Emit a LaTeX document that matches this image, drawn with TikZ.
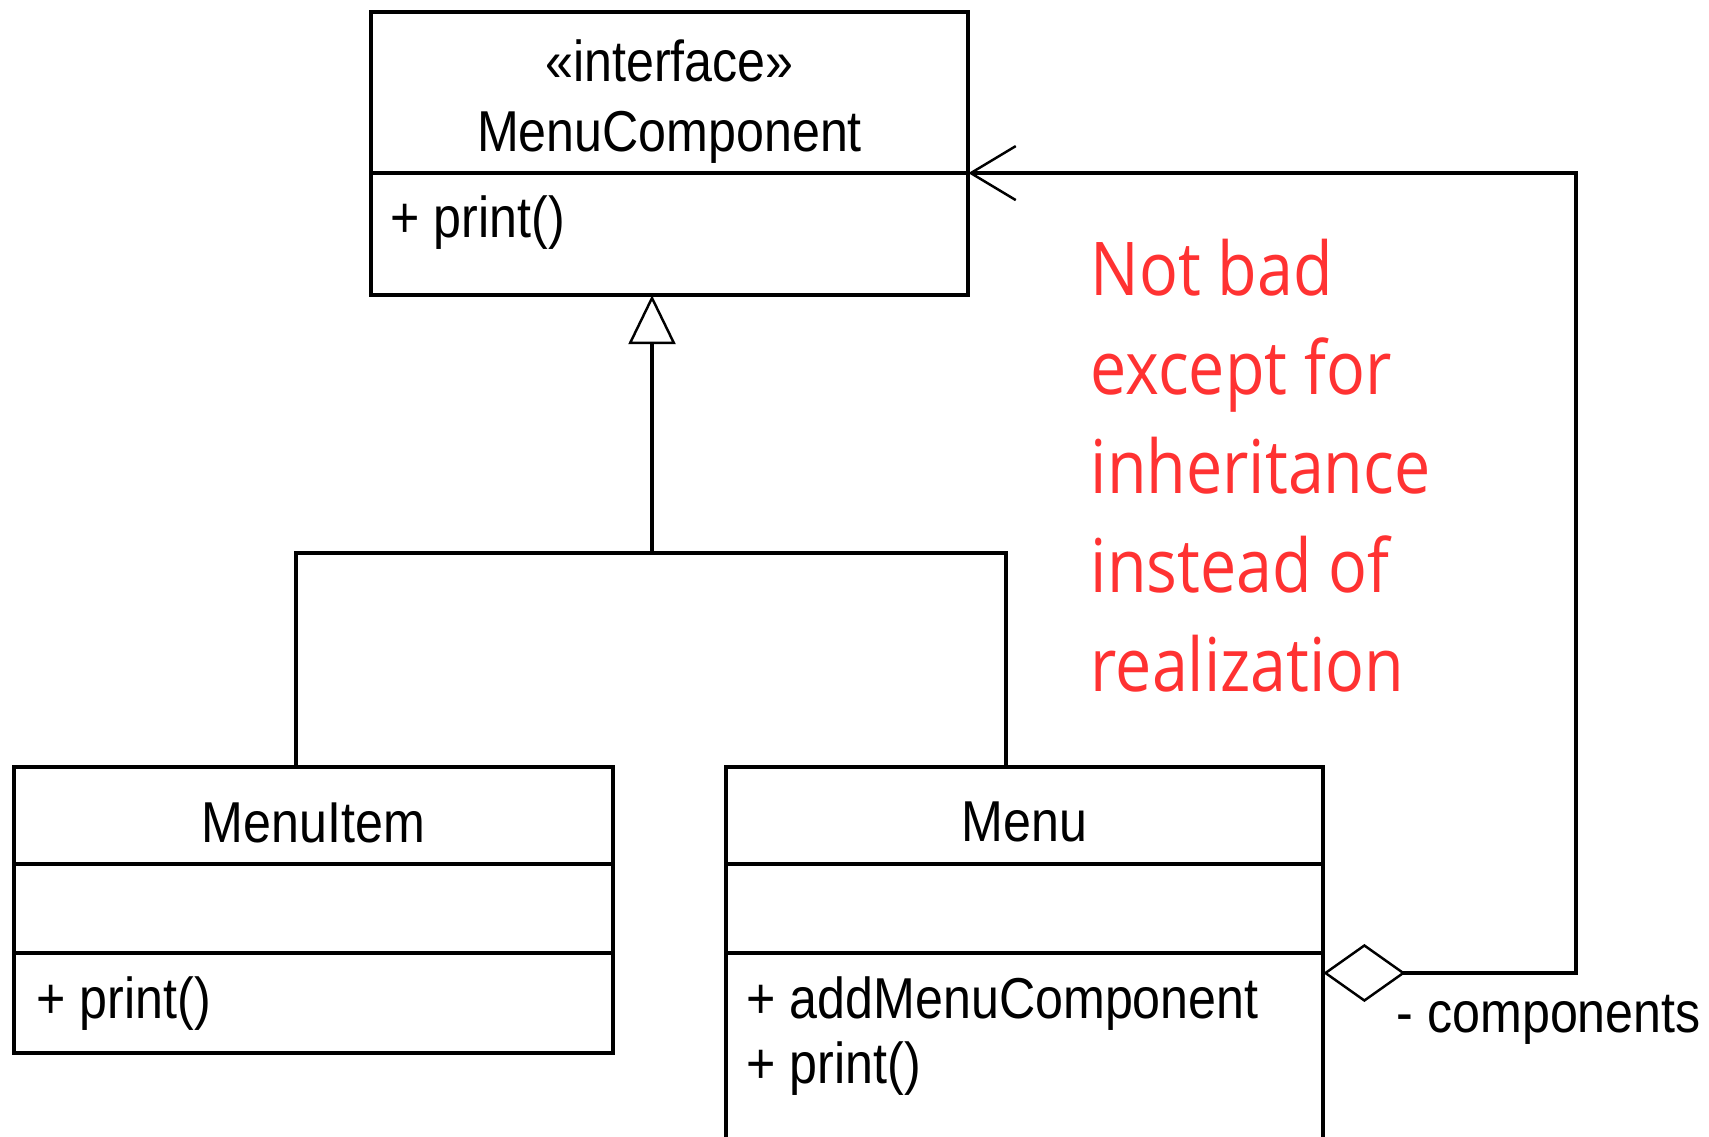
\documentclass[tikz,border=0pt]{standalone}
\usepackage{fontspec}
\newfontfamily\umlfont[FakeStretch=0.87]{Liberation Sans}
\newfontfamily\notefont[FakeStretch=0.87]{Open Sans}
\usepackage{xcolor}
\definecolor{noteRed}{RGB}{255, 50, 50}
\usepackage{tikz}
\usetikzlibrary{arrows.meta, positioning}
\tikzset{compartment/.style n args={2}{draw, line width=1.1pt, inner sep=0pt, outer sep=0pt,
  anchor=north west, minimum width=#1, minimum height=#2},
classtitle/.style={anchor=base, inner sep=0pt},
member/.style={anchor=base west, inner sep=0pt},
notetext/.style={anchor=base west, inner sep=0pt, align=left, text=noteRed,
  font=\notefont\fontsize{21.1}{28.2}\selectfont},
inherit/.style={-{Triangle[open, length=0.49cm, width=0.47cm, line width=0.7pt]}},
aggregate/.style={{Diamond[open, length=0.82cm, width=0.58cm, line width=0.7pt]}-{Straight Barb[length=0.45cm, width=0.54cm, line width=0.7pt]}}
}
\begin{document}
\begin{tikzpicture}[x=0.01cm, y=-0.01cm, line width=1pt,
  every node/.style={font=\umlfont\fontsize{16.4}{19.9}\selectfont}]
  \useasboundingbox (0,0) rectangle (1709,1137);

  % === Interface ===
  \node[compartment={5.97cm}{1.61cm}] (mc-head) at (371,12) {};
  \node[compartment={5.97cm}{1.22cm}, below=0pt of mc-head] (mc-ops) {};
  \node[classtitle] (mc-stereo) at (669.5,82) {«interface»};
  \node[classtitle] (mc-title) at (669.5,152) {MenuComponent};
  \node[member] (mc-print) at (389,238) {+ print()};

  % === Leaf ===
  \node[compartment={5.99cm}{0.97cm}] (item-name) at (14,767) {};
  \node[compartment={5.99cm}{0.89cm}, below=0pt of item-name] (item-attr) {};
  \node[compartment={5.99cm}{1.00cm}, below=0pt of item-attr] (item-ops) {};
  \node[classtitle] (item-title) at (313.5,842) {MenuItem};
  \node[member] (item-print) at (35,1018) {+ print()};

  % === Composite ===
  \node[compartment={5.97cm}{0.97cm}] (menu-name) at (726,767) {};
  \node[compartment={5.97cm}{0.89cm}, below=0pt of menu-name] (menu-attr) {};
  \node[compartment={5.97cm}{2.30cm}, below=0pt of menu-attr] (menu-ops) {};
  \node[classtitle] (menu-title) at (1024.5,841) {Menu};
  \node[member] (menu-add) at (745,1018) {+ addMenuComponent};
  \node[member] (menu-print) at (745,1083) {+ print()};

  % === Inheritance ===
  \coordinate (fork) at (652,553);
  \coordinate (item-top) at (296,767);
  \coordinate (menu-top) at (1006,767);
  \draw[inherit] (fork) -- (fork |- mc-ops.south);
  \draw (item-top) |- (fork) -| (menu-top);

  % === Aggregation ===
  \coordinate (agg-turn) at (1576,973);
  \draw[aggregate] (menu-ops.north east |- agg-turn) -- (agg-turn) |- (mc-ops.north east);
  \node[member] (agg-role) at (1395,1032) {- components};

  % === Annotation ===
  \node[notetext] (critique) at (1089,692) {Not bad\\except for\\inheritance\\instead of\\realization};
\end{tikzpicture}
\end{document}
